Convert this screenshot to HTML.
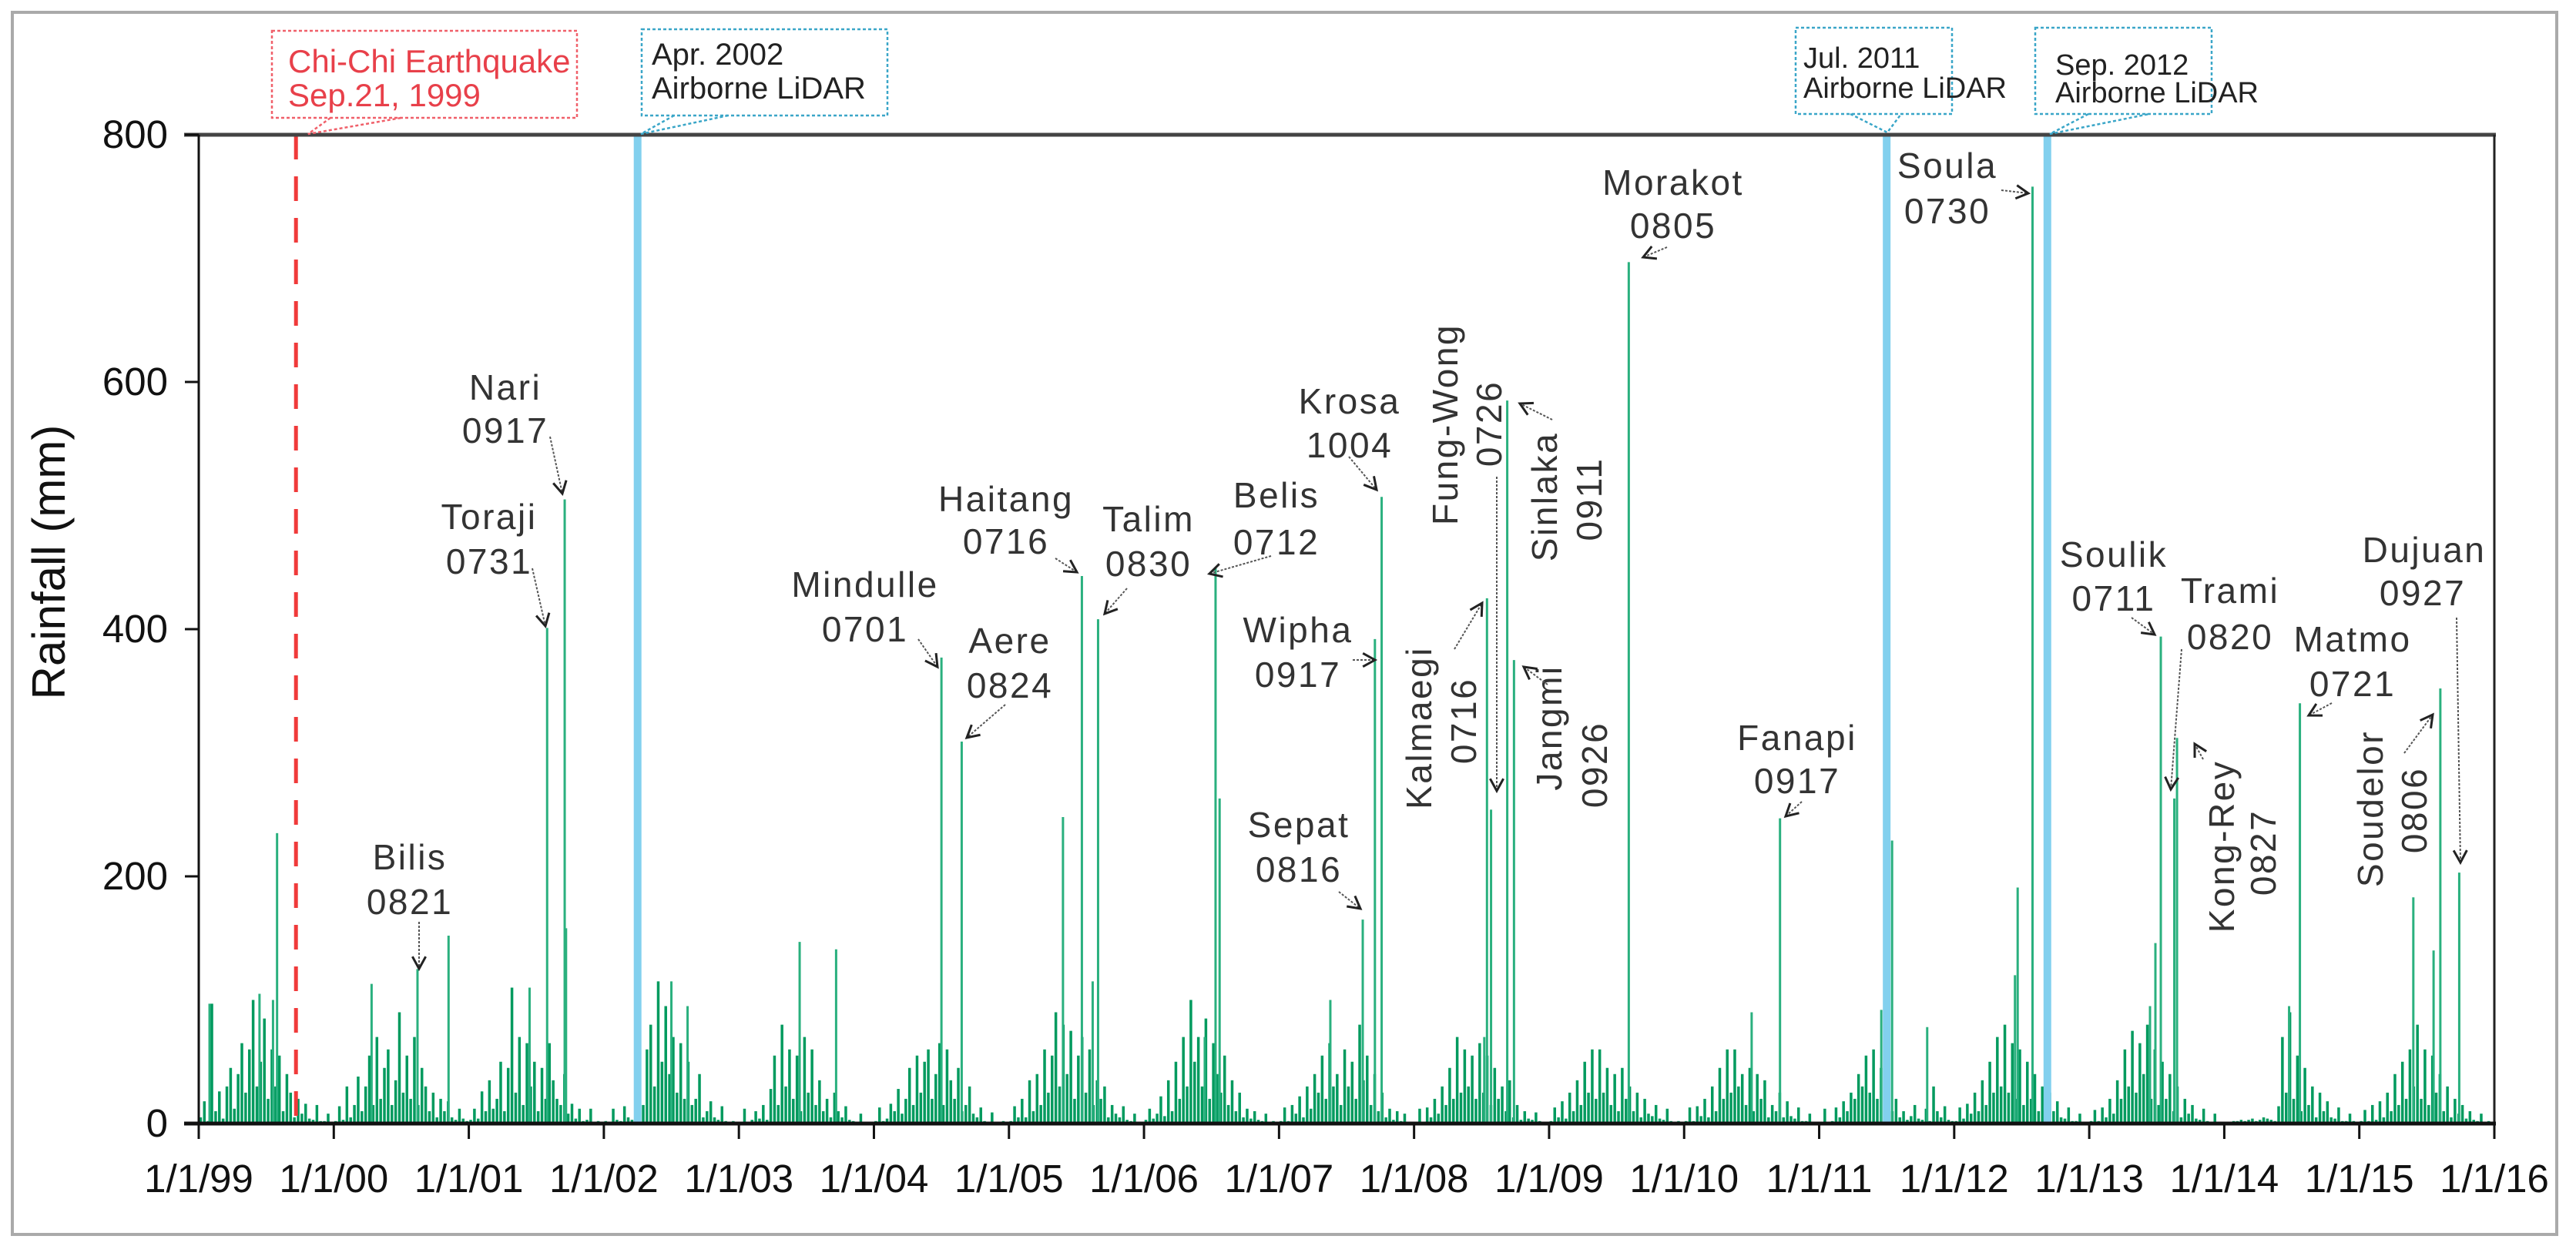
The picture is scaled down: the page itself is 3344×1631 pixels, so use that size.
<!DOCTYPE html>
<html><head><meta charset="utf-8">
<style>
html,body{margin:0;padding:0;background:#fff;}
svg{display:block;font-family:"Liberation Sans",Arial,sans-serif;}
.lab{font-size:46px;letter-spacing:2.5px;fill:#333;text-anchor:middle;}
.tk{font-size:51px;fill:#111;}
</style></head>
<body>
<svg id="chart" width="3344" height="1631" viewBox="0 0 3344 1631">
<rect x="16" y="16" width="3303" height="1587" fill="#fff" stroke="#aaa" stroke-width="4"/>
<g id="bars"></g>
<g id="events"></g>
<g id="axes"></g>
<text x="84" y="730" transform="rotate(-90 84 730)" text-anchor="middle" font-size="60" fill="#111">Rainfall (mm)</text>

<g>
<rect x="353" y="40" width="396" height="113" fill="#fff" stroke="#f0606a" stroke-width="2.5" stroke-dasharray="4,3"/>
<polyline points="429,153 400,174 521,153" fill="none" stroke="#f0606a" stroke-width="2.5" stroke-dasharray="4,3"/>
<text x="374" y="94" font-size="42" fill="#e8404a">Chi-Chi Earthquake</text>
<text x="374" y="138" font-size="42" fill="#e8404a">Sep.21, 1999</text>
</g>
<g>
<rect x="833" y="38" width="319" height="112" fill="#fff" stroke="#3aa6c8" stroke-width="2.5" stroke-dasharray="4,3"/>
<polyline points="875,150 832,174 945,150" fill="none" stroke="#3aa6c8" stroke-width="2.5" stroke-dasharray="4,3"/>
<text x="846" y="84" font-size="40" fill="#222">Apr. 2002</text>
<text x="846" y="128" font-size="40" fill="#222">Airborne LiDAR</text>
</g>
<g>
<rect x="2331" y="36" width="203" height="112" fill="#fff" stroke="#3aa6c8" stroke-width="2.5" stroke-dasharray="4,3"/>
<polyline points="2402,148 2450,172 2468,148" fill="none" stroke="#3aa6c8" stroke-width="2.5" stroke-dasharray="4,3"/>
<text x="2341" y="88" font-size="38" fill="#222">Jul. 2011</text>
<text x="2341" y="127" font-size="38" fill="#222">Airborne LiDAR</text>
</g>
<g>
<rect x="2642" y="36" width="229" height="112" fill="#fff" stroke="#3aa6c8" stroke-width="2.5" stroke-dasharray="4,3"/>
<polyline points="2711,148 2661,174 2790,148" fill="none" stroke="#3aa6c8" stroke-width="2.5" stroke-dasharray="4,3"/>
<text x="2668" y="97" font-size="38" fill="#222">Sep. 2012</text>
<text x="2668" y="133" font-size="38" fill="#222">Airborne LiDAR</text>
</g>

<g id="labels">
<text class="lab" x="532" y="1129">Bilis<tspan x="532" y="1187">0821</tspan></text>
<text class="lab" x="656" y="519">Nari<tspan x="656" y="575">0917</tspan></text>
<text class="lab" x="635" y="687">Toraji<tspan x="635" y="745">0731</tspan></text>
<text class="lab" x="1123" y="775">Mindulle<tspan x="1123" y="833">0701</tspan></text>
<text class="lab" x="1311" y="848">Aere<tspan x="1311" y="906">0824</tspan></text>
<text class="lab" x="1306" y="664">Haitang<tspan x="1306" y="719">0716</tspan></text>
<text class="lab" x="1491" y="690">Talim<tspan x="1491" y="748">0830</tspan></text>
<text class="lab" x="1657" y="659">Belis<tspan x="1657" y="720">0712</tspan></text>
<text class="lab" x="1752" y="537">Krosa<tspan x="1752" y="594">1004</tspan></text>
<text class="lab" x="1685" y="834">Wipha<tspan x="1685" y="892">0917</tspan></text>
<text class="lab" x="1686" y="1087">Sepat<tspan x="1686" y="1145">0816</tspan></text>
<text class="lab" x="2172" y="253">Morakot<tspan x="2172" y="309">0805</tspan></text>
<text class="lab" x="2333" y="974">Fanapi<tspan x="2333" y="1030">0917</tspan></text>
<text class="lab" x="2528" y="231">Soula<tspan x="2528" y="290">0730</tspan></text>
<text class="lab" x="2744" y="736">Soulik<tspan x="2744" y="793">0711</tspan></text>
<text class="lab" x="2895" y="783">Trami<tspan x="2895" y="843">0820</tspan></text>
<text class="lab" x="3054" y="846">Matmo<tspan x="3054" y="904">0721</tspan></text>
<text class="lab" x="3147" y="730">Dujuan<tspan x="3145" y="786">0927</tspan></text>
<text class="lab" x="1892" y="551" transform="rotate(-90 1892 551)">Fung-Wong</text>
<text class="lab" x="1949" y="550" transform="rotate(-90 1949 550)">0726</text>
<text class="lab" x="1858" y="945" transform="rotate(-90 1858 945)">Kalmaegi</text>
<text class="lab" x="1916" y="936" transform="rotate(-90 1916 936)">0716</text>
<text class="lab" x="2021" y="645" transform="rotate(-90 2021 645)">Sinlaka</text>
<text class="lab" x="2079" y="648" transform="rotate(-90 2079 648)">0911</text>
<text class="lab" x="2027" y="945" transform="rotate(-90 2027 945)">Jangmi</text>
<text class="lab" x="2086" y="993" transform="rotate(-90 2086 993)">0926</text>
<text class="lab" x="2900" y="1099" transform="rotate(-90 2900 1099)">Kong-Rey</text>
<text class="lab" x="2954" y="1107" transform="rotate(-90 2954 1107)">0827</text>
<text class="lab" x="3093" y="1050" transform="rotate(-90 3093 1050)">Soudelor</text>
<text class="lab" x="3150" y="1052" transform="rotate(-90 3150 1052)">0806</text>
</g>
<g id="arrows"></g>
</svg>
<script>
// ---- data ----
const xTickLabels = ['1/1/99','1/1/00','1/1/01','1/1/02','1/1/03','1/1/04','1/1/05','1/1/06','1/1/07','1/1/08','1/1/09','1/1/10','1/1/11','1/1/12','1/1/13','1/1/14','1/1/15','1/1/16'];
const yTicks = [0,200,400,600,800];
const bgYears = [1999,2000,2001,2002,2003,2004,2005,2006,2007,2008,2009,2010,2011,2012,2013,2014,2015];
const bgDekadRain = [
[5,18,2,97,10,26,4,30,45,12,40,65,25,60,100,30,50,85,20,60,30,55,10,40,25,5,20,8,16,4,3,15,2,2,8,1],
[2,14,3,30,5,15,38,10,30,55,15,70,20,45,60,15,35,90,25,55,20,70,15,45,30,10,25,5,20,10,18,5,3,12,4,2],
[3,12,4,26,10,35,12,20,50,10,45,110,25,70,15,65,30,50,10,45,20,65,35,20,15,40,8,16,4,12,2,3,12,1,2,1],
[2,1,12,3,2,14,5,3,2,40,15,60,80,30,115,50,95,40,70,25,65,20,50,15,20,40,5,10,18,5,3,14,2,1,2,1],
[1,12,1,3,10,4,15,3,28,55,15,80,30,60,20,55,10,70,25,60,15,35,10,20,5,25,10,5,14,3,2,1,8,1,1,1],
[2,13,2,4,16,10,28,8,20,45,15,55,25,50,60,20,40,65,15,60,35,20,45,10,15,30,8,5,13,2,1,9,1,1,2,1],
[2,14,5,20,5,35,10,40,15,60,25,55,90,30,80,40,75,20,55,70,25,60,15,35,20,30,5,15,8,5,14,3,2,8,1,1],
[3,12,4,8,22,6,35,10,50,20,70,30,100,50,70,30,85,20,65,40,25,55,15,35,10,25,5,12,4,10,3,2,8,1,2,1],
[2,13,2,15,8,22,5,30,12,40,25,55,20,65,30,40,15,60,30,50,20,80,35,55,15,40,10,25,5,12,3,10,2,8,1,1],
[1,12,1,13,5,20,8,30,15,45,20,70,25,60,30,55,20,65,25,55,15,45,20,30,10,35,5,15,3,10,4,3,9,2,1,1],
[2,13,5,18,4,25,10,35,15,50,25,60,20,60,25,45,15,40,10,45,20,30,10,25,5,20,8,6,15,4,3,12,2,1,2,1],
[2,13,2,14,6,20,5,30,10,45,20,60,25,60,30,40,15,45,10,40,20,35,5,15,10,25,5,18,6,4,13,2,2,8,1,1],
[1,12,1,2,13,5,18,10,25,20,40,30,55,25,60,20,45,15,35,10,20,5,10,3,6,15,4,3,12,2,30,10,5,14,3,2],
[2,13,4,16,8,25,10,35,15,50,25,70,30,80,25,65,20,60,15,50,20,40,10,30,5,25,10,18,5,4,13,2,2,8,1,1],
[2,11,2,13,5,20,8,35,20,60,30,75,25,65,40,80,20,60,15,50,20,40,10,30,5,20,8,15,4,3,12,2,1,8,1,1],
[1,1,2,2,3,2,3,4,2,3,5,4,3,2,14,70,25,90,20,55,10,45,15,30,5,25,10,18,5,4,13,2,2,8,2,1],
[2,11,2,15,3,18,5,25,10,40,15,50,20,60,30,80,20,60,15,55,25,40,10,30,5,20,8,15,4,10,3,2,8,1,2,1]
];
const peakDates = [1999.08,1999.45,1999.55,1999.58,2000.28,2000.62,2000.85,2001.45,2001.58,2001.71,2001.72,2002.5,2002.62,2003.45,2003.72,2004.50,2004.65,2005.40,2005.54,2005.62,2005.66,2006.45,2006.53,2006.56,2007.38,2007.62,2007.71,2007.76,2008.52,2008.54,2008.57,2008.69,2008.74,2009.59,2010.50,2010.71,2011.46,2011.54,2011.80,2012.45,2012.47,2012.58,2013.45,2013.49,2013.53,2013.63,2013.65,2014.48,2014.56,2015.40,2015.55,2015.60,2015.74];
const peakRain  = [97,105,100,235,113,125,152,110,401,505,158,115,95,147,141,377,309,248,443,115,408,70,450,263,100,165,392,507,70,425,254,585,375,697,90,247,92,229,78,120,191,758,95,146,394,263,312,95,340,183,140,352,203];

// ---- scales ----
const X0=258, X1=3238, Y0=1459, Y1=175;
function xs(t){return X0+(t-1999)*(X1-X0)/17;}
function ys(v){return Y0-v*(Y0-Y1)/800;}
const NS='http://www.w3.org/2000/svg';
function mk(tag,attrs,parent){const e=document.createElementNS(NS,tag);for(const k in attrs)e.setAttribute(k,attrs[k]);parent.appendChild(e);return e;}

const bars=document.getElementById('bars');
bgYears.forEach((yr,i)=>{
  bgDekadRain[i].forEach((v,d)=>{
    const x=xs(yr+(d+0.5)/36);
    const b=mk('line',{x1:x,x2:x,y1:Y0,y2:ys(v),stroke:'#009a5e','stroke-width':3.5},bars);
    
    
  });
});
peakDates.forEach((t,i)=>{
  const x=xs(t);
  const b=mk('line',{x1:x,x2:x,y1:Y0,y2:ys(peakRain[i]),stroke:'#2ab07e','stroke-width':3},bars);
  
  
});

// event lines
const ev=document.getElementById('events');
const red=mk('line',{x1:xs(1999.72),x2:xs(1999.72),y1:Y1,y2:Y0,stroke:'#f03a3a','stroke-width':5,'stroke-dasharray':'32,22'},ev);


[2002.25,2011.50,2012.69].forEach(t=>{
  const l=mk('line',{x1:xs(t),x2:xs(t),y1:Y1,y2:Y0,stroke:'#82d0ee','stroke-width':10},ev);
  
  
});

// axes
const ax=document.getElementById('axes');
mk('line',{x1:239,x2:X1+2,y1:Y1,y2:Y1,stroke:'#444','stroke-width':5},ax);
mk('line',{x1:X0,x2:X0,y1:Y1,y2:Y0,stroke:'#111','stroke-width':3},ax);
mk('line',{x1:X1,x2:X1,y1:Y1,y2:Y0+20,stroke:'#222','stroke-width':3},ax);
mk('line',{x1:239,x2:X1+2,y1:Y0,y2:Y0,stroke:'#111','stroke-width':5},ax);
yTicks.forEach(v=>{
  const y=ys(v);
  const tl=mk('line',{x1:240,x2:X0,y1:y,y2:y,stroke:'#111','stroke-width':3},ax);
  
  
  const t=mk('text',{x:218,y:y+17,'text-anchor':'end',class:'tk','font-size':48},ax);
  t.textContent=v;
  
  
});
xTickLabels.forEach((s,i)=>{
  const x=xs(1999+i);
  const tl=mk('line',{x1:x,x2:x,y1:Y0,y2:Y0+20,stroke:'#111','stroke-width':3},ax);
  
  
  const t=mk('text',{x:x,y:1548,'text-anchor':'middle',class:'tk'},ax);
  t.textContent=s;
  
  
});

// arrows
const arrows=[[544,1197,544,1258],[714,567,730,641],[691,738,708,813],[1192,830,1217,866],[1305,915,1255,958],[1370,725,1398,743],[1463,764,1434,797],[1650,722,1570,745],[1751,593,1787,636],[1756,857,1785,857],[1738,1158,1766,1180],[1888,843,1924,783],[1943,619,1943,1027],[2015,545,1973,524],[2009,889,1978,866],[2164,321,2133,334],[2339,1041,2318,1060],[2598,247,2633,251],[2767,802,2797,824],[2832,843,2818,1025],[2860,986,2849,966],[3027,913,2997,929],[3121,978,3158,928],[3189,802,3194,1120]];
const ar=document.getElementById('arrows');
arrows.forEach(a=>{
  const [x1,y1,x2,y2]=a;
  const g=mk('g',{},ar);
  
  
  mk('line',{x1,y1,x2,y2,stroke:'#555','stroke-width':2,'stroke-dasharray':'3,2'},g);
  const ang=Math.atan2(y2-y1,x2-x1), L=18;
  const p1=[x2-L*Math.cos(ang-0.5),y2-L*Math.sin(ang-0.5)], p2=[x2-L*Math.cos(ang+0.5),y2-L*Math.sin(ang+0.5)];
  mk('polyline',{points:`${p1} ${x2},${y2} ${p2}`,fill:'none',stroke:'#222','stroke-width':3},g);
});
</script>
</body></html>
